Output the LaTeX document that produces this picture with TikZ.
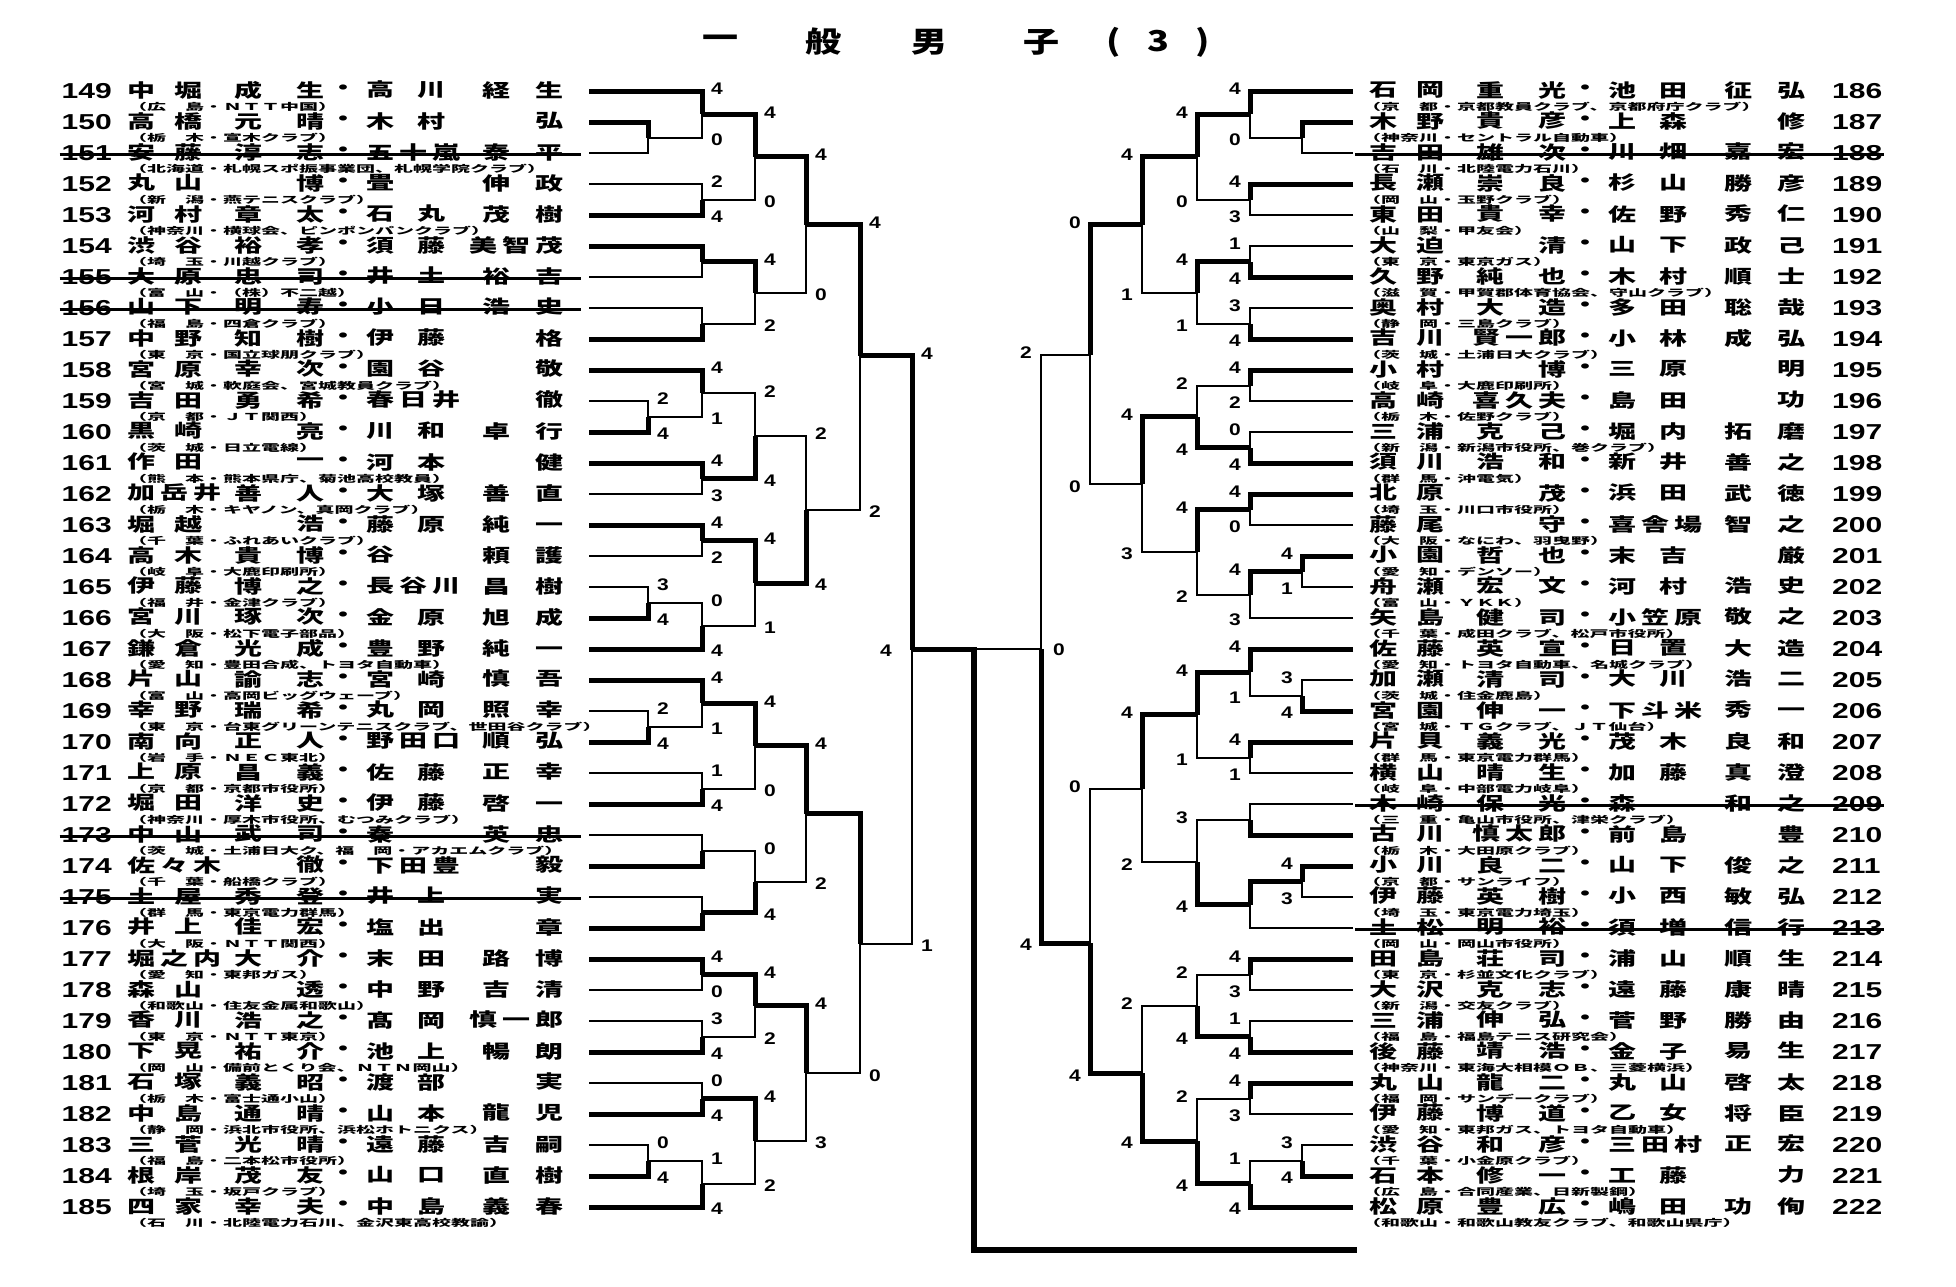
\documentclass[tikz,border=0pt]{standalone}
\usepackage{fontspec}
\usepackage{graphicx}
\setmainfont{Liberation Sans}
\newfontfamily\jp{Noto Sans CJK JP}
\usetikzlibrary{calc}
\newcount\nc
\newdimen\pw
\def\ENDSP{ENDSP}
\def\countchars#1{\nc=0 \countloop#1\ENDSP}
\def\countloop#1{\ifx\ENDSP#1\else\advance\nc by 1 \expandafter\countloop\fi}
\long\def\gobbleone#1{}
\long\def\firstone#1{#1}
\def\spreadit#1{\spreadA#1\ENDSP}
\def\spreadA#1#2{#1\ifx\ENDSP#2\expandafter\gobbleone\else\hfill\expandafter\firstone\fi{\spreadA#2}}
\tikzset{
  thn/.style={line width=2pt},
  thk/.style={line width=5pt},
  champ/.style={line width=6.5pt,line cap=rect},
  strk/.style={line width=3pt},
  nm/.style={inner sep=0pt,font=\jp\bfseries\fontsize{28}{28}\selectfont},
  af/.style={inner sep=0pt,font=\jp\bfseries\fontsize{19}{19}\selectfont},
  num/.style={inner sep=0pt,font=\bfseries\fontsize{30}{30}\selectfont},
  lab/.style={inner sep=0pt,font=\bfseries\fontsize{21}{21}\selectfont},
  ttl/.style={inner sep=0pt,font=\jp\bfseries\fontsize{36}{36}\selectfont},
}
% left-aligned part (surname)
\newcommand\partL[5]{%
  \countchars{#4}%
  \ifcase\nc \pw=28pt \or \pw=28pt \or \pw=\dimexpr 28pt+#3pt\relax \else \pw=94pt \fi
  \node[nm,anchor=west] (#5) at ({#1},{#2}) {\scalebox{1}[0.66]{\hbox to\pw{\hss\spreadit{#4}\hss}}};%
}
% right-aligned part (given name)
\newcommand\partR[5]{%
  \countchars{#4}%
  \ifcase\nc \pw=28pt \or \pw=28pt \or \pw=\dimexpr 28pt+#3pt\relax \else \pw=94pt \fi
  \node[nm,anchor=east] (#5) at ({#1},{#2}) {\scalebox{1}[0.66]{\hbox to\pw{\hss\spreadit{#4}\hss}}};%
}
\newcommand\nameparts[7]{%
  \partL{#1-14}{#2}{47}{#3}{p#7a}%
  \partR{#1+184}{#2}{62}{#4}{p#7b}%
  \node[nm] (p#7d) at ({#1+202},{#2}) {\scalebox{1}[0.66]{・}};
  \partL{#1+225}{#2}{51}{#5}{p#7c}%
  \partR{#1+423}{#2}{53}{#6}{p#7e}%
}
\newcommand\entL[6]{%
  \pgfmathtruncatemacro\yy{91+31*(#1-149)}%
  \coordinate (e#1) at (589,\yy);
  \node[num,anchor=east] (k#1) at (112,\yy) {\scalebox{1}[0.72]{#1}};
  \nameparts{141}{{\yy-1}}{#2}{#3}{#4}{#5}{#1}%
  \node[af,anchor=west] (a#1) at (128,{\yy+16}) {\scalebox{1}[0.5]{#6}};
}
\newcommand\entR[6]{%
  \pgfmathtruncatemacro\yy{91+31*(#1-186)}%
  \coordinate (e#1) at (1353,\yy);
  \node[num,anchor=west] (k#1) at (1832,\yy) {\scalebox{1}[0.72]{#1}};
  \nameparts{1383}{{\yy-1}}{#2}{#3}{#4}{#5}{#1}%
  \node[af,anchor=west] (a#1) at (1362,{\yy+16}) {\scalebox{1}[0.5]{#6}};
}
\newcommand\strL[1]{\draw[strk] ($(k#1.west)+(-2,1)$) -- ($(e#1)+(-8,1)$);}
\newcommand\strR[1]{\draw[strk] ($(e#1)+(2,1)$) -- ($(k#1.east)+(2,1)$);}
% match on the left side
\newcommand\mL[9]{%
  \coordinate (#1) at ($(#2 -| #4)!#9!(#3 -| #4)$);
  \draw[#6] (#3) -- (#3 -| #4) -- (#1);
  \draw[#5] (#2) -- (#2 -| #4) -- (#1);
  \node[lab,anchor=west] (#1t) at ($(#2 -| #4)+(9,-2)$) {\scalebox{1}[0.8]{#7}};
  \node[lab,anchor=west] (#1b) at ($(#3 -| #4)+(9,2)$) {\scalebox{1}[0.8]{#8}};
}
% match on the right side
\newcommand\mR[9]{%
  \coordinate (#1) at ($(#2 -| #4)!#9!(#3 -| #4)$);
  \draw[#6] (#3) -- (#3 -| #4) -- (#1);
  \draw[#5] (#2) -- (#2 -| #4) -- (#1);
  \node[lab,anchor=east] (#1t) at ($(#2 -| #4)+(-9,-2)$) {\scalebox{1}[0.8]{#7}};
  \node[lab,anchor=east] (#1b) at ($(#3 -| #4)+(-9,2)$) {\scalebox{1}[0.8]{#8}};
}
\begin{document}
\begin{tikzpicture}[x=1pt,y=-1pt]
\fill[white] (0,0) rectangle (1956,1286);
\useasboundingbox (0,0) rectangle (1956,1286);
% title
\node[ttl] (t1) at (720,42) {\scalebox{1}[0.8]{一}};
\node[ttl] (t2) at (823,42) {\scalebox{1}[0.8]{般}};
\node[ttl] (t3) at (929,42) {\scalebox{1}[0.8]{男}};
\node[ttl] (t4) at (1041,42) {\scalebox{1}[0.8]{子}};
\node[ttl] (t5) at (1158,42) {\scalebox{1}[0.8]{\hbox to 104pt{(\hfill 3\hfill )}}};
% round x positions
\coordinate (LR0) at (648,0); \coordinate (LR1) at (702,0); \coordinate (LR2) at (755,0);
\coordinate (LR3) at (806,0); \coordinate (LR4) at (860,0); \coordinate (LF) at (912,0);
\coordinate (RR0) at (1302,0); \coordinate (RR1) at (1250,0); \coordinate (RR2) at (1197,0);
\coordinate (RR3) at (1142,0); \coordinate (RR4) at (1090,0); \coordinate (RF) at (1041,0);
\coordinate (OUTX) at (974,0);
% left entries
\entL{149}{中堀}{成生}{高川}{経生}{（広　島・ＮＴＴ中国）}
\entL{150}{高橋}{元晴}{木村}{弘}{（栃　木・宣木クラブ）}
\entL{151}{安藤}{淳志}{五十嵐}{泰平}{（北海道・札幌スポ振事業団、札幌学院クラブ）}
\entL{152}{丸山}{博}{畳}{伸政}{（新　潟・燕テニスクラブ）}
\entL{153}{河村}{章太}{石丸}{茂樹}{（神奈川・横球会、ピンポンパンクラブ）}
\entL{154}{渋谷}{裕孝}{須藤}{美智茂}{（埼　玉・川越クラブ）}
\entL{155}{大原}{忠司}{井土}{裕吉}{（富　山・（株）不二越）}
\entL{156}{山下}{明寿}{小日}{浩史}{（福　島・四倉クラブ）}
\entL{157}{中野}{知樹}{伊藤}{格}{（東　京・国立球朋クラブ）}
\entL{158}{宮原}{幸次}{園谷}{敬}{（宮　城・軟庭会、宮城教員クラブ）}
\entL{159}{吉田}{勇希}{春日井}{徹}{（京　都・ＪＴ関西）}
\entL{160}{黒崎}{亮}{川和}{卓行}{（茨　城・日立電線）}
\entL{161}{作田}{一}{河本}{健}{（熊　本・熊本県庁、菊池高校教員）}
\entL{162}{加岳井}{善人}{大塚}{善直}{（栃　木・キヤノン、真岡クラブ）}
\entL{163}{堀越}{浩}{藤原}{純一}{（千　葉・ふれあいクラブ）}
\entL{164}{高木}{貴博}{谷}{頼護}{（岐　阜・大鹿印刷所）}
\entL{165}{伊藤}{博之}{長谷川}{昌樹}{（福　井・金津クラブ）}
\entL{166}{宮川}{琢次}{金原}{旭成}{（大　阪・松下電子部品）}
\entL{167}{鎌倉}{光成}{豊野}{純一}{（愛　知・豊田合成、トヨタ自動車）}
\entL{168}{片山}{諭志}{宮崎}{慎吾}{（富　山・高岡ビッグウェーブ）}
\entL{169}{幸野}{瑞希}{丸岡}{照幸}{（東　京・台東グリーンテニスクラブ、世田谷クラブ）}
\entL{170}{南向}{正人}{野田口}{順弘}{（岩　手・ＮＥＣ東北）}
\entL{171}{上原}{昌義}{佐藤}{正幸}{（京　都・京都市役所）}
\entL{172}{堀田}{洋史}{伊藤}{啓一}{（神奈川・厚木市役所、むつみクラブ）}
\entL{173}{中山}{武司}{秦}{英忠}{（茨　城・土浦日大ク、福　岡・アカエムクラブ）}
\entL{174}{佐々木}{徹}{下田豊}{毅}{（千　葉・船橋クラブ）}
\entL{175}{土屋}{秀登}{井上}{実}{（群　馬・東京電力群馬）}
\entL{176}{井上}{佳宏}{塩出}{章}{（大　阪・ＮＴＴ関西）}
\entL{177}{堀之内}{大介}{末田}{路博}{（愛　知・東邦ガス）}
\entL{178}{森山}{透}{中野}{吉清}{（和歌山・住友金属和歌山）}
\entL{179}{香川}{浩之}{髙岡}{慎一郎}{（東　京・ＮＴＴ東京）}
\entL{180}{下晃}{祐介}{池上}{暢朗}{（岡　山・備前とくり会、ＮＴＮ岡山）}
\entL{181}{石塚}{義昭}{渡部}{実}{（栃　木・富士通小山）}
\entL{182}{中島}{通晴}{山本}{龍児}{（静　岡・浜北市役所、浜松ホトニクス）}
\entL{183}{三菅}{光晴}{遠藤}{吉嗣}{（福　島・二本松市役所）}
\entL{184}{根岸}{茂友}{山口}{直樹}{（埼　玉・坂戸クラブ）}
\entL{185}{四家}{幸夫}{中島}{義春}{（石　川・北陸電力石川、金沢東高校教諭）}
% right entries
\entR{186}{石岡}{重光}{池田}{征弘}{（京　都・京都教員クラブ、京都府庁クラブ）}
\entR{187}{木野}{貴彦}{上森}{修}{（神奈川・セントラル自動車）}
\entR{188}{吉田}{雄次}{川畑}{嘉宏}{（石　川・北陸電力石川）}
\entR{189}{長瀬}{崇良}{杉山}{勝彦}{（岡　山・玉野クラブ）}
\entR{190}{東田}{貴幸}{佐野}{秀仁}{（山　梨・甲友会）}
\entR{191}{大迫}{清}{山下}{政己}{（東　京・東京ガス）}
\entR{192}{久野}{純也}{木村}{順士}{（滋　賀・甲賀郡体育協会、守山クラブ）}
\entR{193}{奥村}{大造}{多田}{聡哉}{（静　岡・三島クラブ）}
\entR{194}{吉川}{賢一郎}{小林}{成弘}{（茨　城・土浦日大クラブ）}
\entR{195}{小村}{博}{三原}{明}{（岐　阜・大鹿印刷所）}
\entR{196}{高崎}{喜久夫}{島田}{功}{（栃　木・佐野クラブ）}
\entR{197}{三浦}{克己}{堀内}{拓磨}{（新　潟・新潟市役所、巻クラブ）}
\entR{198}{須川}{浩和}{新井}{善之}{（群　馬・沖電気）}
\entR{199}{北原}{茂}{浜田}{武徳}{（埼　玉・川口市役所）}
\entR{200}{藤尾}{守}{喜舎場}{智之}{（大　阪・なにわ、羽曳野）}
\entR{201}{小園}{哲也}{末吉}{厳}{（愛　知・デンソー）}
\entR{202}{舟瀬}{宏文}{河村}{浩史}{（富　山・ＹＫＫ）}
\entR{203}{矢島}{健司}{小笠原}{敬之}{（千　葉・成田クラブ、松戸市役所）}
\entR{204}{佐藤}{英宣}{日置}{大造}{（愛　知・トヨタ自動車、名城クラブ）}
\entR{205}{加瀬}{清司}{大川}{浩二}{（茨　城・住金鹿島）}
\entR{206}{宮園}{伸一}{下斗米}{秀一}{（宮　城・ＴＧクラブ、ＪＴ仙台）}
\entR{207}{片貝}{義光}{茂木}{良和}{（群　馬・東京電力群馬）}
\entR{208}{横山}{晴生}{加藤}{真澄}{（岐　阜・中部電力岐阜）}
\entR{209}{木崎}{保光}{森}{和之}{（三　重・亀山市役所、津栄クラブ）}
\entR{210}{古川}{慎太郎}{前島}{豊}{（栃　木・大田原クラブ）}
\entR{211}{小川}{良二}{山下}{俊之}{（京　都・サンライフ）}
\entR{212}{伊藤}{英樹}{小西}{敏弘}{（埼　玉・東京電力埼玉）}
\entR{213}{土松}{明裕}{須増}{信行}{（岡　山・岡山市役所）}
\entR{214}{田島}{荘司}{浦山}{順生}{（東　京・杉並文化クラブ）}
\entR{215}{大沢}{克志}{遠藤}{康晴}{（新　潟・交友クラブ）}
\entR{216}{三浦}{伸弘}{菅野}{勝由}{（福　島・福島テニス研究会）}
\entR{217}{後藤}{靖浩}{金子}{易生}{（神奈川・東海大相模ＯＢ、三菱横浜）}
\entR{218}{丸山}{龍二}{丸山}{啓太}{（福　岡・サンデークラブ）}
\entR{219}{伊藤}{博道}{乙女}{将臣}{（愛　知・東邦ガス、トヨタ自動車）}
\entR{220}{渋谷}{和彦}{三田村}{正宏}{（千　葉・小金原クラブ）}
\entR{221}{石本}{修一}{工藤}{力}{（広　島・合同産業、日新製鋼）}
\entR{222}{松原}{豊広}{嶋田}{功侚}{（和歌山・和歌山教友クラブ、和歌山県庁）}
% crossed-out entries
\strL{151}\strL{155}\strL{156}\strL{173}\strL{175}
\strR{188}\strR{209}\strR{213}
% left bracket
\mL{m1}{e150}{e151}{LR0}{thk}{thn}{}{}{.5}
\mL{m2}{e149}{m1}{LR1}{thk}{thn}{4}{0}{.5}
\mL{m3}{e152}{e153}{LR1}{thn}{thk}{2}{4}{.5}
\mL{m4}{m2}{m3}{LR2}{thk}{thn}{4}{0}{.5}
\mL{m5}{e154}{e155}{LR1}{thk}{thn}{}{}{.5}
\mL{m6}{e156}{e157}{LR1}{thn}{thk}{}{}{.5}
\mL{m7}{m5}{m6}{LR2}{thk}{thn}{4}{2}{.5}
\mL{m8}{m4}{m7}{LR3}{thk}{thn}{4}{0}{.5}
\mL{m9}{e159}{e160}{LR0}{thn}{thk}{2}{4}{.5}
\mL{m10}{e158}{m9}{LR1}{thk}{thn}{4}{1}{.5}
\mL{m11}{e161}{e162}{LR1}{thk}{thn}{4}{3}{.5}
\mL{m12}{m10}{m11}{LR2}{thn}{thk}{2}{4}{.5}
\mL{m13}{e163}{e164}{LR1}{thk}{thn}{4}{2}{.5}
\mL{m14}{e165}{e166}{LR0}{thn}{thk}{3}{4}{.5}
\mL{m15}{m14}{e167}{LR1}{thn}{thk}{0}{4}{.5}
\mL{m16}{m13}{m15}{LR2}{thk}{thn}{4}{1}{.5}
\mL{m17}{m12}{m16}{LR3}{thn}{thk}{2}{4}{.5}
\mL{m18}{m8}{m17}{LR4}{thk}{thn}{4}{2}{.461}
\mL{m19}{e169}{e170}{LR0}{thn}{thk}{2}{4}{.5}
\mL{m20}{e168}{m19}{LR1}{thk}{thn}{4}{1}{.5}
\mL{m21}{e171}{e172}{LR1}{thn}{thk}{1}{4}{.5}
\mL{m22}{m20}{m21}{LR2}{thk}{thn}{4}{0}{.5}
\mL{m23}{e173}{e174}{LR1}{thn}{thk}{}{}{.5}
\mL{m24}{e175}{e176}{LR1}{thn}{thk}{}{}{.5}
\mL{m25}{m23}{m24}{LR2}{thn}{thk}{0}{4}{.5}
\mL{m26}{m22}{m25}{LR3}{thk}{thn}{4}{2}{.5}
\mL{m27}{e177}{e178}{LR1}{thk}{thn}{4}{0}{.5}
\mL{m28}{e179}{e180}{LR1}{thn}{thk}{3}{4}{.5}
\mL{m29}{m27}{m28}{LR2}{thk}{thn}{4}{2}{.5}
\mL{m30}{e181}{e182}{LR1}{thn}{thk}{0}{4}{.5}
\mL{m31}{e183}{e184}{LR0}{thn}{thk}{0}{4}{.5}
\mL{m32}{m31}{e185}{LR1}{thn}{thk}{1}{4}{.5}
\mL{m33}{m30}{m32}{LR2}{thk}{thn}{4}{2}{.5}
\mL{m34}{m29}{m33}{LR3}{thk}{thn}{4}{3}{.5}
\mL{m35}{m26}{m34}{LR4}{thk}{thn}{}{0}{.5}
\mL{m36}{m18}{m35}{LF}{thk}{thn}{4}{1}{.5}
% right bracket
\mR{n1}{e187}{e188}{RR0}{thk}{thn}{}{}{.5}
\mR{n2}{e186}{n1}{RR1}{thk}{thn}{4}{0}{.5}
\mR{n3}{e189}{e190}{RR1}{thk}{thn}{4}{3}{.5}
\mR{n4}{n2}{n3}{RR2}{thk}{thn}{4}{0}{.5}
\mR{n5}{e191}{e192}{RR1}{thn}{thk}{1}{4}{.5}
\mR{n6}{e193}{e194}{RR1}{thn}{thk}{3}{4}{.5}
\mR{n7}{n5}{n6}{RR2}{thk}{thn}{4}{1}{.5}
\mR{n8}{n4}{n7}{RR3}{thk}{thn}{4}{1}{.5}
\mR{n9}{e195}{e196}{RR1}{thk}{thn}{4}{2}{.5}
\mR{n10}{e197}{e198}{RR1}{thn}{thk}{0}{4}{.5}
\mR{n11}{n9}{n10}{RR2}{thn}{thk}{2}{4}{.5}
\mR{n12}{e199}{e200}{RR1}{thk}{thn}{4}{0}{.5}
\mR{n13}{e201}{e202}{RR0}{thk}{thn}{4}{1}{.5}
\mR{n14}{n13}{e203}{RR1}{thk}{thn}{4}{3}{.5}
\mR{n15}{n12}{n14}{RR2}{thk}{thn}{4}{2}{.5}
\mR{n16}{n11}{n15}{RR3}{thk}{thn}{4}{3}{.5}
\mR{n17}{n8}{n16}{RR4}{thk}{thn}{0}{0}{.5}
\mR{n18}{e205}{e206}{RR0}{thn}{thk}{3}{4}{.5}
\mR{n19}{e204}{n18}{RR1}{thk}{thn}{4}{1}{.5}
\mR{n20}{e207}{e208}{RR1}{thk}{thn}{4}{1}{.5}
\mR{n21}{n19}{n20}{RR2}{thk}{thn}{4}{1}{.5}
\mR{n22}{e209}{e210}{RR1}{thn}{thk}{}{}{.5}
\mR{n23}{e211}{e212}{RR0}{thk}{thn}{4}{3}{.5}
\mR{n24}{n23}{e213}{RR1}{thk}{thn}{}{}{.5}
\mR{n25}{n22}{n24}{RR2}{thn}{thk}{3}{4}{.5}
\mR{n26}{n21}{n25}{RR3}{thk}{thn}{4}{2}{.5}
\mR{n27}{e214}{e215}{RR1}{thk}{thn}{4}{3}{.5}
\mR{n28}{e216}{e217}{RR1}{thn}{thk}{1}{4}{.5}
\mR{n29}{n27}{n28}{RR2}{thn}{thk}{2}{4}{.5}
\mR{n30}{e218}{e219}{RR1}{thk}{thn}{4}{3}{.5}
\mR{n31}{e220}{e221}{RR0}{thn}{thk}{3}{4}{.5}
\mR{n32}{n31}{e222}{RR1}{thn}{thk}{1}{4}{.5}
\mR{n33}{n30}{n32}{RR2}{thn}{thk}{2}{4}{.5}
\mR{n34}{n29}{n33}{RR3}{thn}{thk}{2}{4}{.5}
\mR{n35}{n26}{n34}{RR4}{thn}{thk}{0}{4}{.543}
\mR{n36}{n17}{n35}{RF}{thn}{thk}{2}{4}{.5}
% final
\coordinate (gl) at (m36 -| OUTX);
\coordinate (gr) at (n36 -| OUTX);
\coordinate (gbot) at (974,1250);
\coordinate (gend) at (1354,1250);
\draw[thn] (n36) -- (gr);
\draw[thk] (m36) -- (gl);
\draw[champ] (gl) -- (gbot) -- (gend);
\node[lab,anchor=east] (g4) at ($(m36)+(-20,1)$) {\scalebox{1}[0.8]{4}};
\node[lab,anchor=west] (g0) at ($(n36)+(12,1)$) {\scalebox{1}[0.8]{0}};
\end{tikzpicture}
\end{document}
